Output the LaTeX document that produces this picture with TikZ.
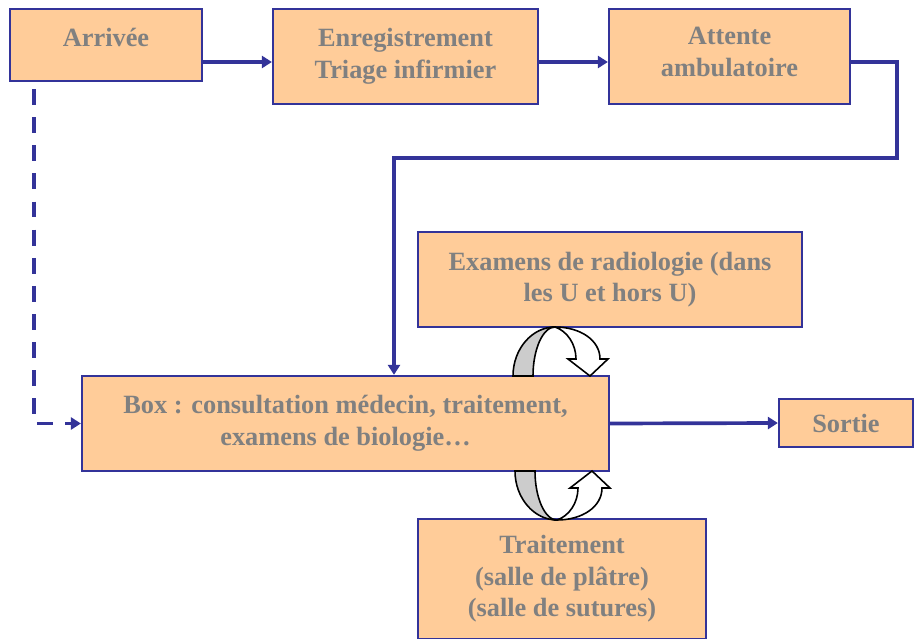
\documentclass[tikz,border=0pt]{standalone}
\usepackage{fontspec}
\setmainfont{Liberation Serif}
\usepackage{xcolor}
\usetikzlibrary{arrows.meta}
\definecolor{flowblue}{RGB}{51,51,153}
\definecolor{boxfill}{RGB}{255,204,153}
\definecolor{txtgray}{RGB}{128,128,128}

\begin{document}
\begin{tikzpicture}[
  x=0.02cm, y=-0.02cm,
  zone/.style={draw=flowblue,line width=1.3pt,fill=boxfill,minimum height=1.9cm,align=center,text=txtgray,font=\fontsize{15}{18}\selectfont\bfseries},
  arr/.style={-{Triangle[length=2mm,width=2.4mm]},flowblue,line width=2.1pt},
  looparrow/.pic={
    \draw[line width=0.9pt,fill=black!20] (-42,0) .. controls (-42,-27) and (-23,-49) .. (0,-49) .. controls (-12,-49) and (-22,-27) .. (-22,0) -- cycle;
    \draw[line width=0.9pt,fill=white] (0,-49) .. controls (25,-49) and (45,-36) .. (45,-17) -- (53,-17) -- (35,0) -- (13,-17) -- (21,-17) .. controls (21,-32) and (12,-45) .. (0,-49) -- cycle;
  }
]
\useasboundingbox (0,0) rectangle (914,639);
\node[zone,minimum width=3.84cm,minimum height=1.44cm,text depth=0.3cm] (arr) at (106,45) {Arrivée};
\node[zone,minimum width=5.3cm] (enr) at (405.5,56.5) {Enregistrement\\Triage infirmier};
\node[zone,minimum width=4.82cm] (att) at (729.5,56.5) {Attente\\ambulatoire\strut};
\node[zone,minimum width=7.68cm] (radio) at (610,279.5) {Examens de radiologie (dans\\les U et hors U)};
\node[zone,minimum width=10.54cm] (box) at (345.5,423.5) {Box : consultation médecin, traitement,\\examens de biologie\dots};
\node[zone,minimum width=2.68cm,minimum height=0.96cm] (sortie) at (846,423) {Sortie};
\node[zone,minimum width=5.76cm,minimum height=2.4cm] (trait) at (562,579) {Traitement\\(salle de plâtre)\\(salle de sutures)};
\coordinate (c1) at (897,158);
\draw[arr] ([yshift=-0.34cm]arr.east) -- ([yshift=-0.34cm]arr.east -| enr.west);
\draw[arr] ([yshift=-0.11cm]enr.east) -- ([yshift=-0.11cm]att.west);
\draw[arr] ([yshift=-0.11cm]att.east) -| (c1) -| ([xshift=0.97cm]box.north);
\draw[arr,dash pattern=on 9pt off 7pt] ([xshift=-1.44cm,yshift=-0.14cm]arr.south) |- (box.west);
\draw[arr] (box.east) -- (sortie.west);
\pic at (555,376) {looparrow};
\pic[yscale=-1] at (557,471) {looparrow};
\end{tikzpicture}
\end{document}
